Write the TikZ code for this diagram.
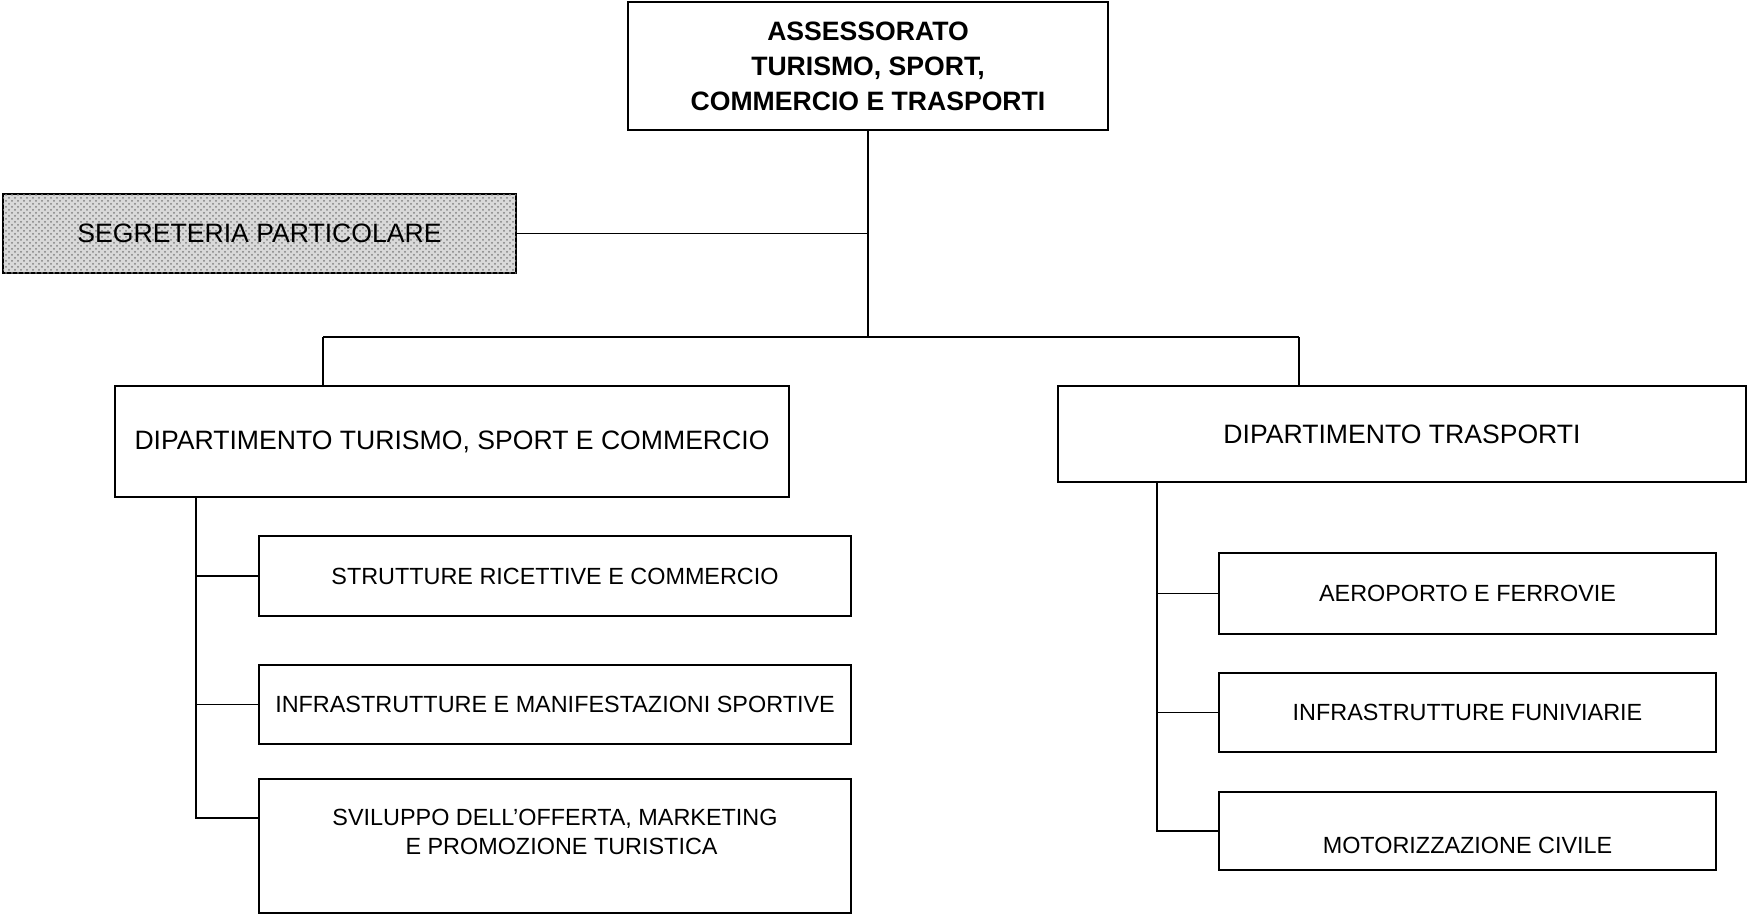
\documentclass[tikz,border=0pt]{standalone}
\usepackage{fontspec}
\setmainfont{Liberation Sans}
\usetikzlibrary{patterns}
\begin{document}
\begin{tikzpicture}[x=0.5pt,y=-0.5pt,
  box/.style={draw, line width=1.2pt, inner sep=0pt, align=center},
  wire/.style={line width=0.9pt},
  headfont/.style={font=\fontsize{13.3}{17.5}\selectfont\bfseries},
  deptfont/.style={font=\fontsize{13.3}{16}\selectfont},
  unitfont/.style={font=\fontsize{11.7}{14.5}\selectfont}]
\useasboundingbox (0,0) rectangle (1749,915);

% head office
\node[box, headfont, minimum width=240pt, minimum height=64pt] (top) at (868,66)
  {ASSESSORATO\\TURISMO, SPORT,\\COMMERCIO E TRASPORTI};

% staff office
\node[box, deptfont, minimum width=256.5pt, minimum height=39.5pt,
      fill=black!15, postaction={pattern=crosshatch dots, pattern color=black!50}] (seg) at (259.5,233.5)
  {SEGRETERIA PARTICOLARE};

% departments
\node[box, deptfont, minimum width=337pt, minimum height=55.5pt] (tsc) at (452,441.5)
  {DIPARTIMENTO TURISMO, SPORT E COMMERCIO};
\node[box, deptfont, minimum width=344pt, minimum height=48pt] (tra) at (1402,434)
  {DIPARTIMENTO TRASPORTI};

% units of the first department
\node[box, unitfont, minimum width=296pt, minimum height=40pt] (l1) at (555,576)
  {STRUTTURE RICETTIVE E COMMERCIO};
\node[box, unitfont, minimum width=296pt, minimum height=39.5pt] (l2) at (555,704.5)
  {INFRASTRUTTURE E MANIFESTAZIONI SPORTIVE};
\node[box, minimum width=296pt, minimum height=67pt,
      label={[unitfont, align=center, yshift=7pt]center:SVILUPPO DELL’OFFERTA, MARKETING\\\ \ E PROMOZIONE TURISTICA}] (l3) at (555,846) {};

% units of the second department
\node[box, unitfont, minimum width=248.5pt, minimum height=40.5pt] (r1) at (1467.5,593.5)
  {AEROPORTO E FERROVIE};
\node[box, unitfont, minimum width=248.5pt, minimum height=39.5pt] (r2) at (1467.5,712.5)
  {INFRASTRUTTURE FUNIVIARIE};
\node[box, minimum width=248.5pt, minimum height=39pt,
      label={[unitfont, yshift=-7pt]center:MOTORIZZAZIONE CIVILE}] (r3) at (1467.5,831) {};

% bus and junction points
\coordinate (hub) at (868,337);
\coordinate (busL) at (323,337);
\coordinate (busR) at (1299,337);
\coordinate (spL) at (196,0);
\coordinate (spR) at (1157,0);
\coordinate (l3in) at (259,818);

% connectors
\draw[wire] (top.south) -- (hub);
\draw[wire] (seg.east) -- (seg.east -| top.south);
\draw[wire] (busL) -- (busR);
\draw[wire] (busL) -- (busL |- tsc.north);
\draw[wire] (busR) -- (busR |- tra.north);

\draw[wire] (spL |- tsc.south) -- (spL |- l3in) -- (l3in);
\draw[wire] (spL |- l1.west) -- (l1.west);
\draw[wire] (spL |- l2.west) -- (l2.west);

\draw[wire] (spR |- tra.south) -- (spR |- r3.west) -- (r3.west);
\draw[wire] (spR |- r1.west) -- (r1.west);
\draw[wire] (spR |- r2.west) -- (r2.west);
\end{tikzpicture}
\end{document}
